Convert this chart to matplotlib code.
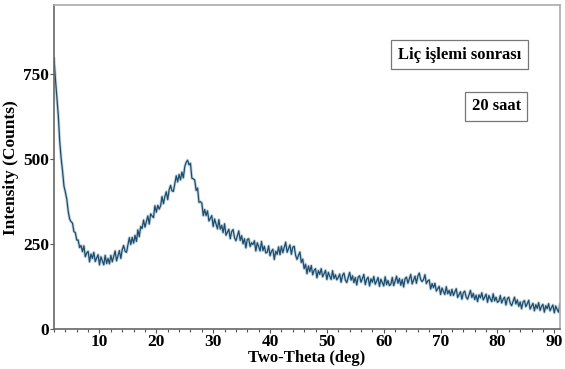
import numpy as np
import matplotlib.pyplot as plt
from matplotlib.ticker import MultipleLocator

plt.rcParams['font.family'] = ['Liberation Serif', 'DejaVu Serif']
plt.rcParams['font.weight'] = 'bold'

# XRD pattern, every 0.25 deg from 2 to 91 deg
theta_start, theta_step = 2.0, 0.25
counts = [
    796, 735, 682, 629, 553, 503, 465, 421, 403, 382, 346, 324, 316, 312, 287, 284, 262, 262, 240, 246,
    228, 245, 213, 224, 229, 198, 221, 208, 226, 199, 209, 219, 189, 213, 201, 189, 217, 193, 208, 192,
    217, 198, 214, 230, 201, 216, 231, 208, 234, 246, 229, 226, 247, 269, 249, 270, 253, 276, 258, 292,
    272, 302, 296, 321, 300, 316, 333, 309, 339, 333, 328, 363, 344, 364, 353, 363, 390, 369, 390, 404,
    381, 410, 423, 407, 405, 428, 451, 433, 455, 439, 462, 445, 478, 491, 497, 483, 488, 444, 442, 439,
    408, 415, 373, 375, 371, 334, 352, 334, 348, 318, 326, 334, 302, 324, 310, 295, 322, 294, 305, 284,
    310, 276, 285, 294, 266, 287, 293, 269, 260, 274, 289, 261, 275, 251, 266, 239, 264, 266, 243, 254,
    249, 260, 230, 254, 243, 230, 258, 231, 244, 224, 226, 245, 216, 229, 235, 205, 229, 220, 242, 219,
    244, 225, 240, 256, 226, 237, 248, 220, 241, 244, 217, 205, 217, 227, 196, 206, 178, 191, 163, 186,
    169, 187, 160, 173, 178, 151, 172, 161, 178, 154, 163, 173, 146, 167, 156, 146, 172, 149, 160, 145,
    152, 162, 138, 158, 165, 144, 137, 152, 167, 144, 157, 137, 152, 130, 153, 157, 138, 149, 161, 131,
    147, 153, 127, 148, 138, 155, 132, 141, 152, 126, 147, 137, 127, 154, 131, 143, 128, 132, 152, 128,
    141, 156, 135, 149, 129, 146, 124, 149, 153, 135, 148, 161, 133, 144, 156, 135, 156, 165, 146, 140,
    146, 160, 134, 142, 145, 118, 134, 122, 135, 112, 119, 126, 102, 121, 111, 102, 125, 104, 114, 99,
    117, 99, 109, 119, 93, 102, 110, 88, 107, 112, 94, 88, 101, 114, 93, 105, 87, 100, 81, 101,
    92, 107, 86, 94, 103, 79, 99, 89, 81, 104, 83, 94, 79, 82, 99, 77, 88, 94, 71, 90,
    94, 76, 69, 82, 94, 74, 86, 67, 80, 60, 80, 84, 66, 75, 85, 59, 68, 76, 54, 72,
    61, 78, 55, 67, 73, 50, 69, 60, 75, 54, 63, 71, 48, 68, 58, 50, 74,
]
two_theta = theta_start + theta_step*np.arange(len(counts))

x_ticks = [10, 20, 30, 40, 50, 60, 70, 80, 90]
y_ticks = [0, 250, 500, 750]

fig = plt.figure(figsize=(5.65, 3.69), dpi=100)
ax = fig.add_axes([0.0956, 0.108, 0.8955, 0.878])

# soft halo under the trace, then the trace itself
ax.plot(two_theta, counts, color='#5d8aa6', lw=2.2, alpha=0.35)
ax.plot(two_theta, counts, color='#1d4d6e', lw=0.9)

ax.set_xlim(2, 91)
ax.set_ylim(0, 953)
ax.set_xticks(x_ticks)
ax.set_yticks(y_ticks)
ax.xaxis.set_minor_locator(MultipleLocator(2))
ax.tick_params(axis='both', which='major', labelsize=12.5, length=3, width=0.8,
               color='#555555', pad=0.5)
ax.tick_params(axis='x', which='minor', length=2, width=0.8, color='#555555')

for s in ax.spines.values():
    s.set_color('#aaaaaa')
    s.set_linewidth(1.2)
ax.spines['left'].set_color('#666666')
ax.spines['bottom'].set_color('#666666')

ax.set_xlabel("Two-Theta (deg)", fontsize=12, fontweight='bold', labelpad=0)
ax.set_ylabel("Intensity (Counts)", fontsize=12.5, fontweight='bold', labelpad=3)

box = dict(boxstyle='square,pad=0.4', fc='white', ec='#777777', lw=0.9)
ax.text(0.801, 0.847, "Liç işlemi sonrası", transform=ax.transAxes,
        ha='center', va='center', fontsize=12, fontweight='bold', bbox=box)
ax.text(0.874, 0.688, "20 saat", transform=ax.transAxes,
        ha='center', va='center', fontsize=12, fontweight='bold', bbox=box)

fig.savefig("out.png", dpi=100)
